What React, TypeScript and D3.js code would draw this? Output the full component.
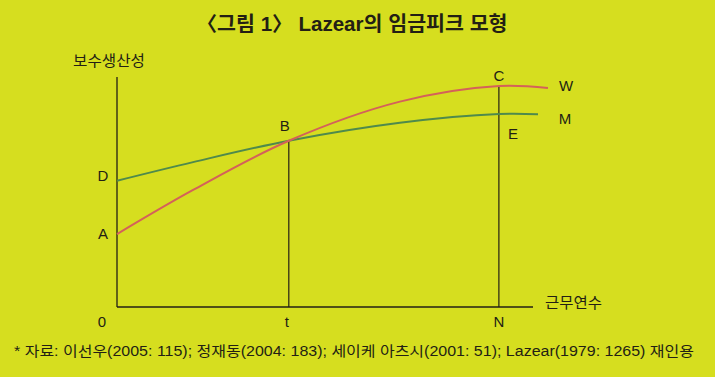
import React from "react";
import * as d3 from "d3";

const W = 715;
const H = 377;

// Data in abstract units (x: career years 0-100 scale, y: wage/productivity 0-100 scale)
const wageX = [0, 18.3, 41.3, 68, 91.8, 103.6];
const wageY = [31.7, 50.9, 72.3, 89.3, 96.1, 95.2];
const prodX = [0, 18.3, 41.3, 68, 91.8, 101.2];
const prodY = [54.9, 63.0, 72.3, 80.1, 83.9, 83.8];
const tYear = 41.3;
const nYear = 91.8;
const pointLabels = ["A", "B", "C", "D", "E"];
const xTickLabels = ["0", "t", "N"];
const curveLabels = ["W", "M"];
const titleText = "〈그림 1〉 Lazear의 임금피크 모형";
const yAxisTitle = "보수생산성";
const xAxisTitle = "근무연수";
const footnote = "* 자료: 이선우(2005: 115); 정재동(2004: 183); 세이케 아츠시(2001: 51); Lazear(1979: 1265) 재인용";

const BG = "#d6de1f";
const RED = "#d4615a";
const GREEN = "#4f8a4c";
const INK = "#231f14";
const LATIN = "'Liberation Sans', Arial, 'Noto Sans CJK KR', sans-serif";

export default function App() {
  const x = d3.scaleLinear().domain([0, 100]).range([117, 533]);
  const y = d3.scaleLinear().domain([0, 100]).range([307, 77]);

  const line = d3
    .line<[number, number]>()
    .x((d) => x(d[0]))
    .y((d) => y(d[1]))
    .curve(d3.curveCatmullRom.alpha(0.5));

  const wagePts = wageX.map((v, i) => [v, wageY[i]] as [number, number]);
  const prodPts = prodX.map((v, i) => [v, prodY[i]] as [number, number]);

  const bY = prodY[2];
  const cY = wageY[4];

  const labelStyle = { fontFamily: LATIN, fontSize: 15, fill: INK } as const;

  return (
    <div style={{ position: "fixed", left: 0, top: 0 }}>
      <svg width={W} height={H} style={{ display: "block" }}>
        <rect x={0} y={0} width={W} height={H} fill={BG} />
        <text
          x={352}
          y={31}
          textAnchor="middle"
          fontFamily={LATIN}
          fontSize={20}
          fontWeight={700}
          fill={INK}
          textLength={311}
          lengthAdjust="spacingAndGlyphs"
        >
          {titleText}
        </text>

        {/* axes */}
        <line x1={x(0)} y1={y(100)} x2={x(0)} y2={y(0)} stroke={INK} strokeWidth={1.3} />
        <line x1={x(0)} y1={y(0)} x2={x(100)} y2={y(0)} stroke={INK} strokeWidth={1.3} />
        {/* vertical guides */}
        <line x1={x(tYear)} y1={y(bY)} x2={x(tYear)} y2={y(0)} stroke={INK} strokeWidth={1.2} />
        <line x1={x(nYear)} y1={y(cY)} x2={x(nYear)} y2={y(0)} stroke={INK} strokeWidth={1.2} />

        {/* curves */}
        <path d={line(prodPts) || ""} fill="none" stroke={GREEN} strokeWidth={2} />
        <path d={line(wagePts) || ""} fill="none" stroke={RED} strokeWidth={2} />

        {/* axis titles */}
        <text x={73} y={66} fontFamily="'Noto Sans CJK KR', sans-serif" fontSize={15} fill={INK} textLength={72} lengthAdjust="spacingAndGlyphs">
          {yAxisTitle}
        </text>
        <text x={545} y={308} fontFamily="'Noto Sans CJK KR', sans-serif" fontSize={15} fill={INK} textLength={57} lengthAdjust="spacingAndGlyphs">
          {xAxisTitle}
        </text>

        {/* tick labels */}
        <text x={x(0) - 15} y={327} textAnchor="middle" {...labelStyle}>{xTickLabels[0]}</text>
        <text x={x(tYear) - 2} y={327} textAnchor="middle" {...labelStyle}>{xTickLabels[1]}</text>
        <text x={x(nYear)} y={327} textAnchor="middle" {...labelStyle}>{xTickLabels[2]}</text>

        {/* point labels */}
        <text x={x(0) - 14} y={y(wageY[0]) + 5} textAnchor="middle" {...labelStyle}>{pointLabels[0]}</text>
        <text x={x(tYear) - 4} y={131} textAnchor="middle" {...labelStyle}>{pointLabels[1]}</text>
        <text x={x(nYear)} y={81} textAnchor="middle" {...labelStyle}>{pointLabels[2]}</text>
        <text x={x(0) - 14} y={y(prodY[0]) + 0} textAnchor="middle" {...labelStyle}>{pointLabels[3]}</text>
        <text x={x(nYear) + 14} y={139} textAnchor="middle" {...labelStyle}>{pointLabels[4]}</text>

        {/* curve labels */}
        <text x={566} y={91} textAnchor="middle" {...labelStyle}>{curveLabels[0]}</text>
        <text x={565} y={123.5} textAnchor="middle" {...labelStyle}>{curveLabels[1]}</text>

        {/* footnote */}
        <text
          x={14}
          y={356}
          fontFamily={LATIN}
          fontSize={14}
          fill={INK}
          textLength={680}
          lengthAdjust="spacingAndGlyphs"
        >
          {footnote}
        </text>
      </svg>
    </div>
  );
}
